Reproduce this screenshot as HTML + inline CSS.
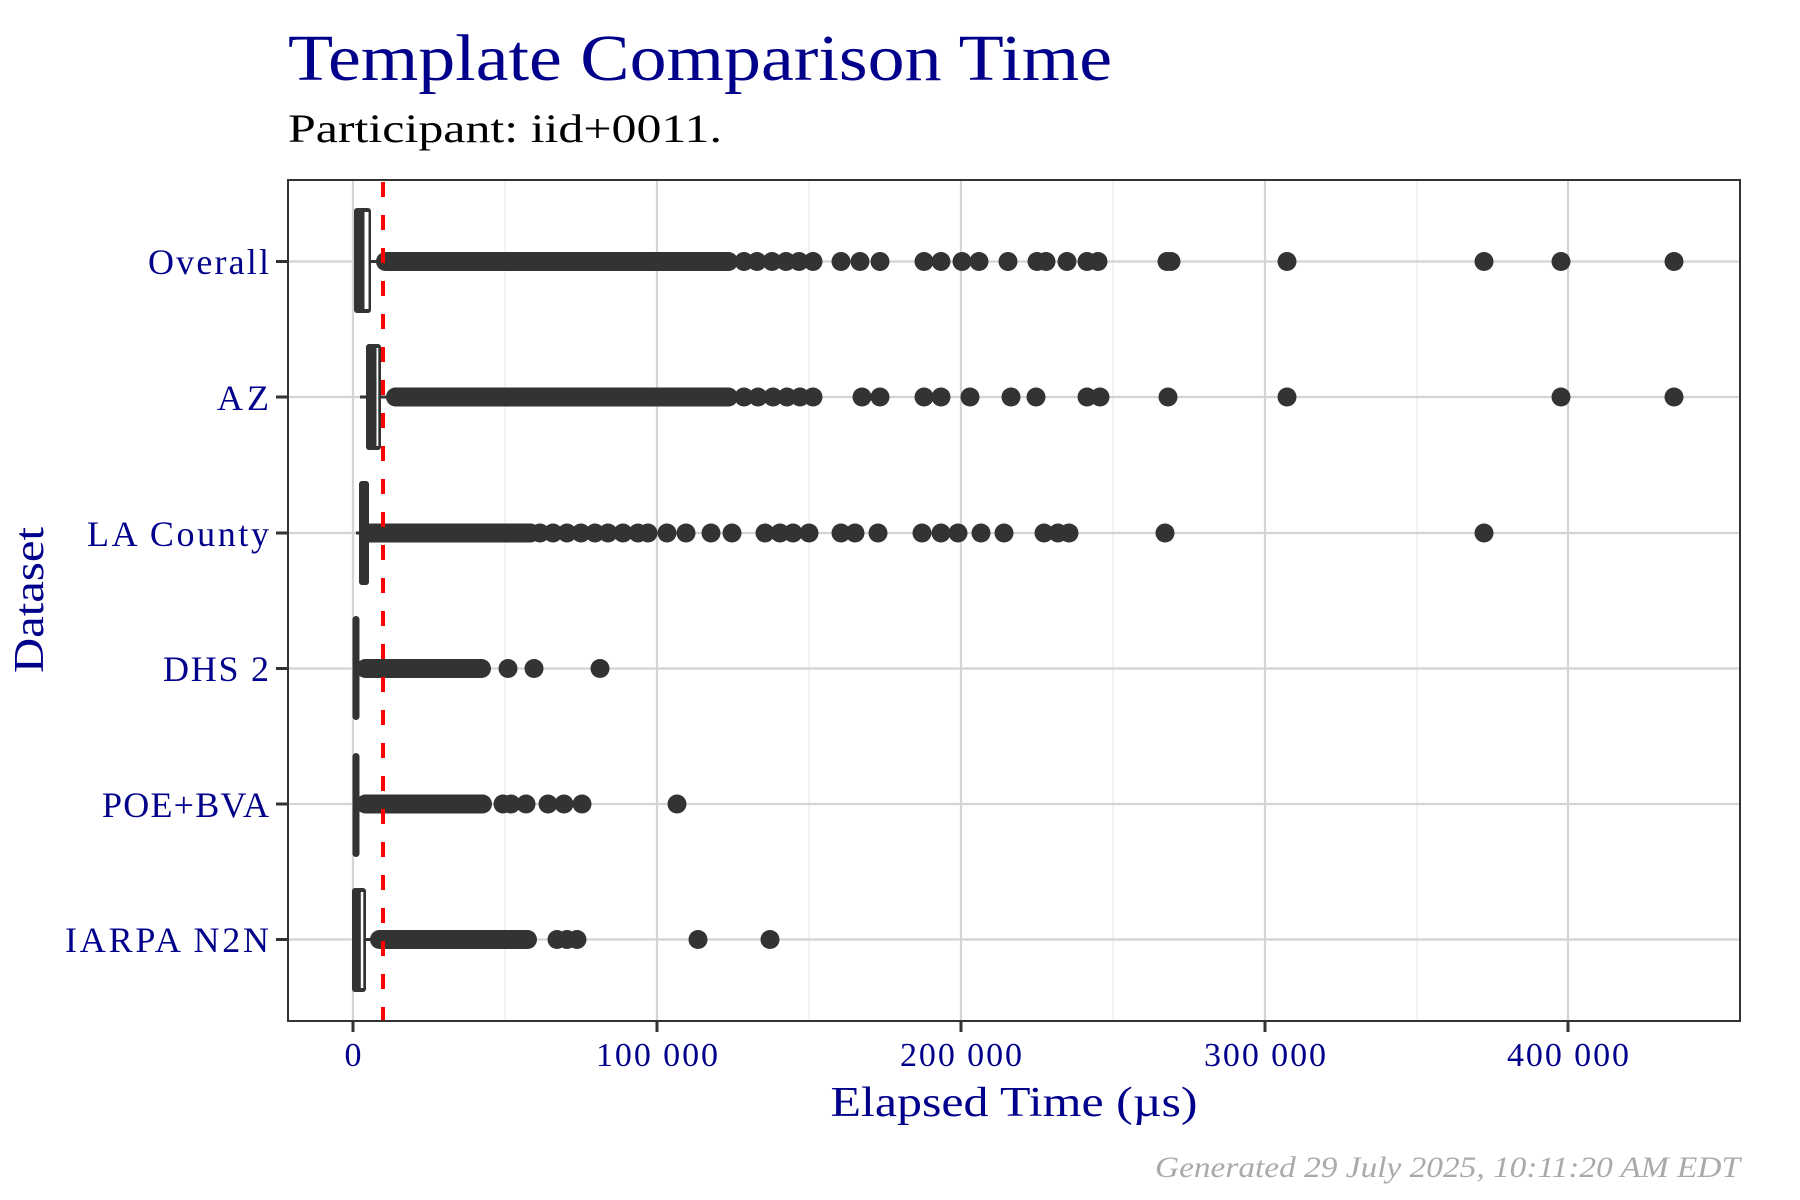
<!DOCTYPE html>
<html><head><meta charset="utf-8"><style>html,body{margin:0;padding:0;background:#fff}svg{display:block}</style></head>
<body>
<svg width="1800" height="1200" viewBox="0 0 1800 1200" xmlns="http://www.w3.org/2000/svg" font-family="'Liberation Serif', serif">
<rect width="1800" height="1200" fill="#fff"/>
<text x="288" y="80" font-size="66" fill="#00008B" textLength="824" lengthAdjust="spacingAndGlyphs">Template Comparison Time</text>
<text x="288" y="142" font-size="40" fill="#000" textLength="434" lengthAdjust="spacingAndGlyphs">Participant: iid+0011.</text>
<g stroke="#ebebeb" stroke-width="1.2">
<line x1="505" y1="180" x2="505" y2="1021"/><line x1="809" y1="180" x2="809" y2="1021"/><line x1="1113" y1="180" x2="1113" y2="1021"/><line x1="1417" y1="180" x2="1417" y2="1021"/>
</g>
<g stroke="#d4d4d4" stroke-width="2.2">
<line x1="353" y1="180" x2="353" y2="1021"/><line x1="657" y1="180" x2="657" y2="1021"/><line x1="961" y1="180" x2="961" y2="1021"/><line x1="1265" y1="180" x2="1265" y2="1021"/><line x1="1568" y1="180" x2="1568" y2="1021"/>
<line x1="288" y1="261.5" x2="1740" y2="261.5"/><line x1="288" y1="397" x2="1740" y2="397"/><line x1="288" y1="533" x2="1740" y2="533"/><line x1="288" y1="668.5" x2="1740" y2="668.5"/><line x1="288" y1="804" x2="1740" y2="804"/><line x1="288" y1="939.5" x2="1740" y2="939.5"/>
</g>
<g fill="#333" stroke="#333">
<!-- Overall -->
<line x1="371" y1="261.5" x2="386" y2="261.5" stroke-width="3"/>
<rect x="354" y="208" width="17" height="105" rx="3" stroke="none"/>
<rect x="364.5" y="212" width="4" height="97" fill="#fff" stroke="none"/>
<rect x="376" y="252" width="362" height="19" rx="9.5" stroke="none"/>
<g stroke="none">
<circle cx="744" cy="261.5" r="9.5"/><circle cx="757" cy="261.5" r="9.5"/><circle cx="772" cy="261.5" r="9.5"/><circle cx="786" cy="261.5" r="9.5"/><circle cx="799" cy="261.5" r="9.5"/><circle cx="813" cy="261.5" r="9.5"/>
<circle cx="841" cy="261.5" r="9.5"/><circle cx="860" cy="261.5" r="9.5"/><circle cx="880" cy="261.5" r="9.5"/><circle cx="924" cy="261.5" r="9.5"/><circle cx="941" cy="261.5" r="9.5"/><circle cx="962" cy="261.5" r="9.5"/><circle cx="979" cy="261.5" r="9.5"/><circle cx="1008" cy="261.5" r="9.5"/><circle cx="1037" cy="261.5" r="9.5"/><circle cx="1046" cy="261.5" r="9.5"/><circle cx="1067" cy="261.5" r="9.5"/><circle cx="1087" cy="261.5" r="9.5"/><circle cx="1098" cy="261.5" r="9.5"/><circle cx="1167" cy="261.5" r="9.5"/><circle cx="1171" cy="261.5" r="9.5"/><circle cx="1287" cy="261.5" r="9.5"/><circle cx="1484" cy="261.5" r="9.5"/><circle cx="1561" cy="261.5" r="9.5"/><circle cx="1674" cy="261.5" r="9.5"/>
</g>
<!-- AZ -->
<line x1="360" y1="397" x2="396" y2="397" stroke-width="3"/>
<rect x="366" y="344" width="15" height="106" rx="3" stroke="none"/>
<rect x="376.5" y="348" width="1.8" height="98" fill="#fff" stroke="none"/>
<rect x="386" y="387.5" width="352" height="19" rx="9.5" stroke="none"/>
<g stroke="none">
<circle cx="744" cy="397" r="9.5"/><circle cx="758" cy="397" r="9.5"/><circle cx="773" cy="397" r="9.5"/><circle cx="787" cy="397" r="9.5"/><circle cx="800" cy="397" r="9.5"/><circle cx="813" cy="397" r="9.5"/>
<circle cx="862" cy="397" r="9.5"/><circle cx="880" cy="397" r="9.5"/><circle cx="924" cy="397" r="9.5"/><circle cx="941" cy="397" r="9.5"/><circle cx="970" cy="397" r="9.5"/><circle cx="1011" cy="397" r="9.5"/><circle cx="1036" cy="397" r="9.5"/><circle cx="1087" cy="397" r="9.5"/><circle cx="1100" cy="397" r="9.5"/><circle cx="1168" cy="397" r="9.5"/><circle cx="1287" cy="397" r="9.5"/><circle cx="1561" cy="397" r="9.5"/><circle cx="1674" cy="397" r="9.5"/>
</g>
<!-- LA County -->
<line x1="356" y1="533" x2="372" y2="533" stroke-width="3"/>
<rect x="359" y="481" width="10" height="104" rx="3" stroke="none"/>
<rect x="360" y="523.5" width="180" height="19" rx="9.5" stroke="none"/>
<g stroke="none">
<circle cx="540" cy="533" r="9.5"/><circle cx="553" cy="533" r="9.5"/><circle cx="567" cy="533" r="9.5"/><circle cx="581" cy="533" r="9.5"/><circle cx="595" cy="533" r="9.5"/><circle cx="608" cy="533" r="9.5"/>
<circle cx="623" cy="533" r="9.5"/><circle cx="638" cy="533" r="9.5"/><circle cx="648" cy="533" r="9.5"/><circle cx="667" cy="533" r="9.5"/><circle cx="686" cy="533" r="9.5"/><circle cx="711" cy="533" r="9.5"/><circle cx="732" cy="533" r="9.5"/><circle cx="765" cy="533" r="9.5"/><circle cx="780" cy="533" r="9.5"/><circle cx="793" cy="533" r="9.5"/><circle cx="809" cy="533" r="9.5"/><circle cx="841" cy="533" r="9.5"/><circle cx="855" cy="533" r="9.5"/><circle cx="878" cy="533" r="9.5"/><circle cx="922" cy="533" r="9.5"/><circle cx="941" cy="533" r="9.5"/><circle cx="958" cy="533" r="9.5"/><circle cx="981" cy="533" r="9.5"/><circle cx="1004" cy="533" r="9.5"/><circle cx="1044" cy="533" r="9.5"/><circle cx="1058" cy="533" r="9.5"/><circle cx="1069" cy="533" r="9.5"/><circle cx="1165" cy="533" r="9.5"/><circle cx="1484" cy="533" r="9.5"/>
</g>
<!-- DHS 2 -->
<rect x="352.5" y="616" width="7" height="104" rx="3.5" stroke="none"/>
<rect x="356" y="659" width="135" height="19" rx="9.5" stroke="none"/>
<g stroke="none"><circle cx="508" cy="668.5" r="9.5"/><circle cx="534" cy="668.5" r="9.5"/><circle cx="600" cy="668.5" r="9.5"/></g>
<!-- POE+BVA -->
<rect x="352.5" y="753" width="7" height="104" rx="3.5" stroke="none"/>
<rect x="356" y="794.5" width="136" height="19" rx="9.5" stroke="none"/>
<g stroke="none"><circle cx="503" cy="804" r="9.5"/><circle cx="511" cy="804" r="9.5"/><circle cx="526" cy="804" r="9.5"/><circle cx="548" cy="804" r="9.5"/><circle cx="564" cy="804" r="9.5"/><circle cx="582" cy="804" r="9.5"/><circle cx="677" cy="804" r="9.5"/></g>
<!-- IARPA -->
<line x1="366" y1="939.5" x2="372" y2="939.5" stroke-width="3"/>
<rect x="352" y="888" width="14" height="104" rx="3" stroke="none"/>
<rect x="360.8" y="892" width="2.5" height="96" fill="#fff" stroke="none"/>
<rect x="370" y="930" width="167" height="19" rx="9.5" stroke="none"/>
<g stroke="none"><circle cx="557" cy="939.5" r="9.5"/><circle cx="567" cy="939.5" r="9.5"/><circle cx="577" cy="939.5" r="9.5"/><circle cx="698" cy="939.5" r="9.5"/><circle cx="770" cy="939.5" r="9.5"/></g>
</g>
<line x1="383" y1="182" x2="383" y2="1021" stroke="#ff0000" stroke-width="4" stroke-dasharray="15 18"/>
<rect x="288" y="180" width="1452" height="841" fill="none" stroke="#333" stroke-width="2"/>
<g stroke="#333" stroke-width="3">
<line x1="276" y1="261.5" x2="288" y2="261.5"/><line x1="276" y1="397" x2="288" y2="397"/><line x1="276" y1="533" x2="288" y2="533"/><line x1="276" y1="668.5" x2="288" y2="668.5"/><line x1="276" y1="804" x2="288" y2="804"/><line x1="276" y1="939.5" x2="288" y2="939.5"/>
<line x1="353" y1="1021" x2="353" y2="1032"/><line x1="657" y1="1021" x2="657" y2="1032"/><line x1="961" y1="1021" x2="961" y2="1032"/><line x1="1265" y1="1021" x2="1265" y2="1032"/><line x1="1568" y1="1021" x2="1568" y2="1032"/>
</g>
<g font-size="36" fill="#00008B" text-anchor="end" lengthAdjust="spacingAndGlyphs">
<text x="269" y="274" textLength="121">Overall</text><text x="269" y="410" textLength="52">AZ</text><text x="269" y="546" textLength="182">LA County</text><text x="269" y="681" textLength="106">DHS 2</text><text x="269" y="817" textLength="167">POE+BVA</text><text x="269" y="952" textLength="204">IARPA N2N</text>
</g>
<g font-size="34" fill="#00008B" text-anchor="middle">
<text x="353" y="1066">0</text><text x="657" y="1066" textLength="122">100 000</text><text x="961" y="1066" textLength="122">200 000</text><text x="1265" y="1066" textLength="122">300 000</text><text x="1568" y="1066" textLength="122">400 000</text>
</g>
<text x="1014" y="1116" font-size="42" fill="#00008B" text-anchor="middle" textLength="367" lengthAdjust="spacingAndGlyphs">Elapsed Time (µs)</text>
<text transform="translate(43,600) rotate(-90)" font-size="42" fill="#00008B" text-anchor="middle" textLength="146" lengthAdjust="spacingAndGlyphs">Dataset</text>
<text x="1740" y="1177" font-size="30" font-style="italic" fill="#aaaaaa" text-anchor="end" textLength="585" lengthAdjust="spacingAndGlyphs">Generated 29 July 2025, 10:11:20 AM EDT</text>
</svg>
</body></html>
